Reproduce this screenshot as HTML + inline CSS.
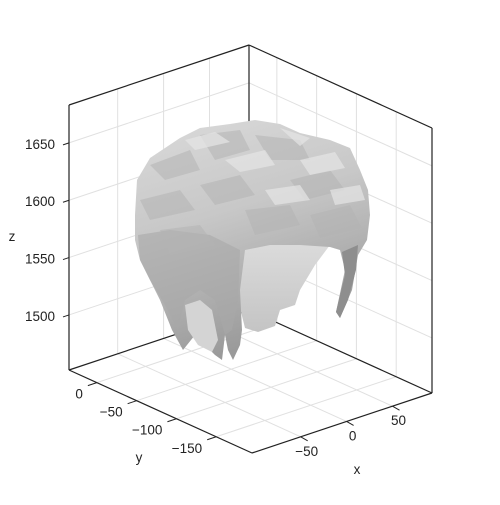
<!DOCTYPE html>
<html><head><meta charset="utf-8"><style>
html,body{margin:0;padding:0;background:#fff;}
svg text{font-family:"Liberation Sans",sans-serif;font-size:13.5px;fill:#222;}
</style></head><body>
<svg id="chart" width="500" height="500" viewBox="0 0 500 500" xmlns="http://www.w3.org/2000/svg">
<defs>
<linearGradient id="capG" x1="0" y1="0" x2="0.3" y2="1">
<stop offset="0" stop-color="#dadada"/><stop offset="0.45" stop-color="#c8c8c8"/><stop offset="1" stop-color="#9a9a9a"/>
</linearGradient>
<linearGradient id="innerG" x1="0" y1="0" x2="0" y2="1">
<stop offset="0" stop-color="#dcdcdc"/><stop offset="1" stop-color="#c4c4c4"/>
</linearGradient>
</defs>
<g id="grid"></g>
<g id="axes"></g>
<g id="mesh">
<path fill="url(#innerG)" d="M240,240 L330,245 L315,265 L300,290 L295,305 L280,310 L275,326 L258,332 L245,328 L238,300 L235,260 Z"/>
<path fill="url(#capG)" d="M135,215 L137,180 L150,158 L180,138 L200,128 L230,124 L255,120 L280,124 L300,133 L330,140 L350,148 L360,170 L368,190 L370,215 L367,240 L358,255 L352,290 L340,318 L336,312 L345,270 L340,250 L330,247 L300,245 L270,245 L245,250 L240,290 L242,330 L240,345 L233,360 L228,350 L225,335 L222,360 L215,355 L205,345 L195,335 L183,350 L172,330 L160,300 L150,280 L140,260 L135,240 Z"/>
<path fill="#8e8e8e" d="M358,245 L356,270 L348,300 L340,318 L336,312 L345,275 L342,252 Z"/>
<path fill="#a8a8a8" opacity="0.6" d="M138,235 L170,230 L210,235 L240,250 L238,300 L232,330 L225,335 L215,300 L200,290 L185,300 L178,330 L165,305 L150,280 L140,260 Z"/>
<path fill="#d4d4d4" d="M185,305 L200,300 L212,310 L218,340 L212,352 L198,345 L188,330 Z"/>
<g fill="#b4b4b4" opacity="0.55">
<path d="M150,165 L190,150 L200,170 L165,180 Z"/>
<path d="M200,135 L240,130 L250,150 L215,160 Z"/>
<path d="M255,135 L300,140 L310,160 L270,160 Z"/>
<path d="M140,200 L180,190 L195,210 L150,220 Z"/>
<path d="M200,185 L240,175 L255,195 L215,205 Z"/>
<path d="M290,180 L330,170 L345,190 L305,200 Z"/>
<path d="M245,210 L290,205 L300,225 L255,235 Z"/>
<path d="M310,215 L350,205 L362,228 L320,238 Z"/>
<path d="M160,230 L200,225 L215,245 L170,255 Z"/>
</g>
<g fill="#e6e6e6" opacity="0.7">
<path d="M185,140 L215,132 L230,142 L195,150 Z"/>
<path d="M280,128 L310,138 L300,146 Z"/>
<path d="M225,160 L265,150 L275,165 L240,172 Z"/>
<path d="M300,160 L335,152 L345,168 L310,175 Z"/>
<path d="M265,190 L300,185 L310,200 L275,205 Z"/>
<path d="M330,190 L360,185 L365,200 L335,205 Z"/>
</g>
</g>
<g id="labels"></g>
</svg>
<script>
const xTicks=[-50,0,50];
const yTicks=[0,-50,-100,-150];
const zTicks=[1500,1550,1600,1650];
const xRange=[-103,93];
const yRange=[-195,35];
const zRange=[1452,1683];
const O=[252,453],VX=[180,-60],VY=[-183,-83],VZ=[0,-265];
function P(x,y,z){
 const fx=(x-xRange[0])/(xRange[1]-xRange[0]);
 const fy=(y-yRange[0])/(yRange[1]-yRange[0]);
 const fz=(z-zRange[0])/(zRange[1]-zRange[0]);
 return [O[0]+fx*VX[0]+fy*VY[0]+fz*VZ[0], O[1]+fx*VX[1]+fy*VY[1]+fz*VZ[1]];
}
const NS="http://www.w3.org/2000/svg";
function line(g,a,b,stroke,w,name){
 const l=document.createElementNS(NS,'line');
 l.setAttribute('x1',a[0]);l.setAttribute('y1',a[1]);l.setAttribute('x2',b[0]);l.setAttribute('y2',b[1]);
 l.setAttribute('stroke',stroke);l.setAttribute('stroke-width',w);
 
 
 g.appendChild(l);
}
function text(g,p,s,anchor,name){
 const t=document.createElementNS(NS,'text');
 t.setAttribute('x',p[0]);t.setAttribute('y',p[1]);t.setAttribute('text-anchor',anchor);
 t.textContent=s;
 
 
 g.appendChild(t);
}
const grid=document.getElementById('grid'),axes=document.getElementById('axes'),lab=document.getElementById('labels');
const [x0,x1]=xRange,[y0,y1]=yRange,[z0,z1]=zRange;
const gc='#e0e0e0';
xTicks.forEach(x=>{line(grid,P(x,y0,z0),P(x,y1,z0),gc,1,'floor-grid-x');line(grid,P(x,y1,z0),P(x,y1,z1),gc,1,'wall-grid-x');});
yTicks.forEach(y=>{line(grid,P(x0,y,z0),P(x1,y,z0),gc,1,'floor-grid-y');line(grid,P(x1,y,z0),P(x1,y,z1),gc,1,'wall-grid-y');});
zTicks.forEach(z=>{line(grid,P(x0,y1,z),P(x1,y1,z),gc,1,'wall-grid-z');line(grid,P(x1,y1,z),P(x1,y0,z),gc,1,'wall-grid-z');});
const ac='#222';
line(axes,P(x0,y0,z0),P(x0,y1,z0),ac,1.2,'y-axis-line');
line(axes,P(x0,y0,z0),P(x1,y0,z0),ac,1.2,'x-axis-line');
line(axes,P(x0,y1,z0),P(x0,y1,z1),ac,1.2,'z-axis-line');
line(axes,P(x1,y0,z0),P(x1,y0,z1),ac,1.2,'right-edge');
line(axes,P(x1,y1,z0),P(x1,y1,z1),ac,1.2,'back-edge');
line(axes,P(x0,y1,z1),P(x1,y1,z1),ac,1.2,'top-left-edge');
line(axes,P(x1,y1,z1),P(x1,y0,z1),ac,1.2,'top-right-edge');
line(axes,P(x0,y1,z0),P(x1,y1,z0),ac,1.2,'back-bottom-edge');
line(axes,P(x1,y1,z0),P(x1,y0,z0),ac,1.2,'back-bottom-edge');
yTicks.forEach(y=>{const p=P(x0,y,z0);line(axes,p,[p[0]-9,p[1]+3],ac,1,'y-tick');text(lab,[p[0]-14,p[1]+16],String(y).replace('-','\u2212'),'end','y-tick-label');});
xTicks.forEach(x=>{const p=P(x,y0,z0);line(axes,p,[p[0]+7,p[1]+4],ac,1,'x-tick');text(lab,[p[0]+6,p[1]+19],String(x).replace('-','\u2212'),'middle','x-tick-label');});
zTicks.forEach(z=>{const p=P(x0,y1,z);line(axes,p,[p[0]-6,p[1]+2],ac,1,'z-tick');text(lab,[p[0]-14,p[1]+6],String(z),'end','z-tick-label');});
text(lab,[12,241],'z','middle','z-axis-title');
text(lab,[139,462],'y','middle','y-axis-title');
text(lab,[357,474],'x','middle','x-axis-title');
</script>
</body></html>
